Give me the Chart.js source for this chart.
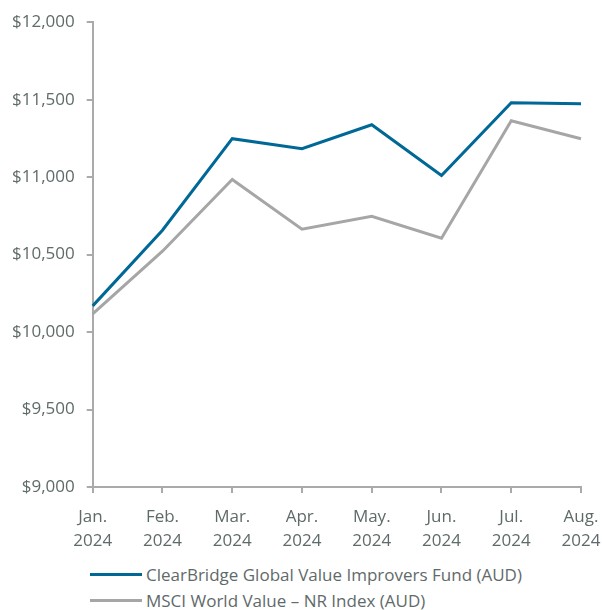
<!DOCTYPE html>
<html><head><meta charset="utf-8">
<script src="https://cdn.jsdelivr.net/npm/chart.js@4/dist/chart.umd.min.js"></script>
<style>
html,body{margin:0;padding:0;background:#fff;}
#wrap{position:relative;width:602px;height:610px;}
#c{position:absolute;left:0;top:0;}
#legend{position:absolute;left:90px;top:561px;font-family:"Open Sans",sans-serif;font-size:17px;color:#5f6a6a;}
.li{display:flex;align-items:center;height:26px;white-space:nowrap;}
.sw{width:52px;height:3px;margin-right:4px;}
</style></head>
<body><div id="wrap"><canvas id="c" width="602" height="560"></canvas><div id="legend"></div></div>
<script>
const categories = [["Jan.","2024"],["Feb.","2024"],["Mar.","2024"],["Apr.","2024"],["May.","2024"],["Jun.","2024"],["Jul.","2024"],["Aug.","2024"]];
const fundName = "ClearBridge Global Value Improvers Fund (AUD)";
const indexName = "MSCI World Value – NR Index (AUD)";
const fundValues = [10169, 10657, 11248, 11184, 11338, 11011, 11480, 11473];
const indexValues = [10118, 10522, 10985, 10664, 10747, 10606, 11364, 11248];
const yTicks = [9000, 9500, 10000, 10500, 11000, 11500, 12000];

const textColor = "#5f6a6a";
const axisColor = "#aaaaaa";
const datasets = [
  {label: fundName, data: fundValues, borderColor: "#006896", borderWidth: 3},
  {label: indexName, data: indexValues, borderColor: "#a6a6a6", borderWidth: 3}
];
const chart = new Chart(document.getElementById("c"), {
  type: "line",
  data: {labels: categories, datasets: datasets.map(d => Object.assign({pointRadius:0, tension:0, fill:false}, d))},
  options: {
    responsive: false, animation: false,
    layout: {padding: {left: 0, top: 9, right: 0, bottom: 0}},
    plugins: {legend: {display: false}, tooltip: {enabled: false}},
    scales: {
      x: {
        offset: false,
        afterFit: s => { s.height = 73; s.paddingRight = 21; },
        border: {color: axisColor, width: 2},
        grid: {drawOnChartArea: false, color: axisColor, lineWidth: 2, tickLength: 6},
        ticks: {color: textColor, font: {family: "Open Sans", size: 17, lineHeight: 1.4}, padding: 12, maxRotation: 0, autoSkip: false}
      },
      y: {
        min: 9000, max: 12000,
        afterBuildTicks: a => { a.ticks = yTicks.map(v => ({value: v})); },
        border: {color: axisColor, width: 2},
        grid: {drawOnChartArea: false, color: axisColor, lineWidth: 2, tickLength: 6},
        ticks: {color: textColor, font: {family: "Open Sans", size: 17}, padding: 12,
          callback: v => "$" + v.toLocaleString("en-US")}
      }
    }
  }
});
const lg = document.getElementById("legend");
datasets.forEach(d => {
  const row = document.createElement("div"); row.className = "li";
  const sw = document.createElement("div"); sw.className = "sw"; sw.style.background = d.borderColor;
  const t = document.createElement("span"); t.textContent = d.label;
  row.appendChild(sw); row.appendChild(t); lg.appendChild(row);
});
</script></body></html>
